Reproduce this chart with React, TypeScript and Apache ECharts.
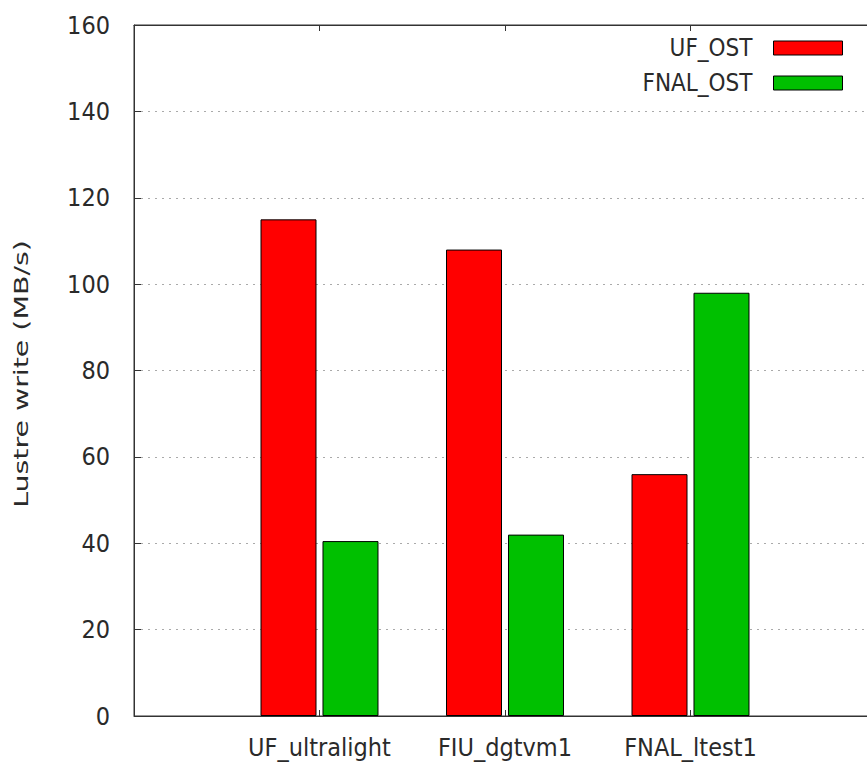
import React, { useEffect, useRef } from "react";
import * as echarts from "echarts";

// Lustre write throughput per client host, grouped by target OST
const categories = ["UF_ultralight", "FIU_dgtvm1", "FNAL_ltest1"];
const seriesNames = ["UF_OST", "FNAL_OST"];
const ufOst = [115, 108, 56];
const fnalOst = [40.5, 42, 98];
const yTicks = [0, 20, 40, 60, 80, 100, 120, 140, 160];

const NARROW = "'DejaVu Sans Condensed', 'DejaVu Sans', sans-serif";
const TEXT = "#2a2a2a";

export default function App() {
  const ref = useRef<HTMLDivElement>(null);

  useEffect(() => {
    if (!ref.current) return;
    const chart = echarts.init(ref.current, undefined, { renderer: "svg" });
    const xLabel = (v: number) => (Number.isInteger(v) && categories[v] !== undefined ? categories[v] : "");

    chart.setOption({
      animation: false,
      backgroundColor: "#fff",
      grid: { left: 134, top: 25, right: 4, bottom: 49, show: true, borderColor: "#333", borderWidth: 1 },
      legend: {
        orient: "vertical",
        right: 37,
        top: 33,
        padding: 0,
        align: "right",
        itemWidth: 69,
        itemHeight: 14,
        itemGap: 5,
        icon: "rect",
        selectedMode: false,
        data: seriesNames,
        textStyle: { fontFamily: NARROW, fontSize: 24, color: TEXT, lineHeight: 30, padding: [0, 16, 0, 0] },
        itemStyle: { borderColor: "#000", borderWidth: 1 },
      },
      xAxis: [
        {
          type: "value",
          min: -1,
          max: 3,
          interval: 1,
          position: "bottom",
          splitLine: { show: false },
          axisLine: { show: true, onZero: false, lineStyle: { color: "#333", width: 1 } },
          axisTick: { show: true, inside: true, length: 6, lineStyle: { color: "#333" } },
          axisLabel: { formatter: xLabel, fontFamily: NARROW, fontSize: 25, color: TEXT, margin: 19 },
        },
        {
          type: "value",
          min: -1,
          max: 3,
          interval: 1,
          position: "top",
          splitLine: { show: false },
          axisLine: { show: true, onZero: false, lineStyle: { color: "#333", width: 1 } },
          axisTick: { show: true, inside: true, length: 6, lineStyle: { color: "#333" } },
          axisLabel: { show: false },
        },
      ],
      yAxis: {
        type: "value",
        min: yTicks[0],
        max: yTicks[yTicks.length - 1],
        interval: 20,
        axisLine: { show: true, onZero: false, lineStyle: { color: "#333", width: 1 } },
        axisTick: { show: true, inside: true, length: 7, lineStyle: { color: "#333" } },
        axisLabel: { fontFamily: NARROW, fontSize: 25, color: TEXT, margin: 24 },
        splitLine: { show: true, lineStyle: { color: "#aaa", type: [2, 5], width: 1 } },
      },
      graphic: [
        {
          type: "text",
          x: 21,
          y: 374,
          rotation: Math.PI / 2,
          scaleX: 1.42,
          style: {
            text: "Lustre write (MB/s)",
            fontFamily: "'DejaVu Sans', sans-serif",
            fontSize: 20,
            fill: TEXT,
            textAlign: "center",
            textVerticalAlign: "middle",
          },
        },
      ],
      series: [
        {
          name: seriesNames[0],
          type: "bar",
          barWidth: 56,
          barGap: "10.7%",
          data: categories.map((_, i) => [i, ufOst[i]]),
          itemStyle: { color: "#ff0000", borderColor: "#000", borderWidth: 1 },
        },
        {
          name: seriesNames[1],
          type: "bar",
          barWidth: 56,
          barGap: "10.7%",
          data: categories.map((_, i) => [i, fnalOst[i]]),
          itemStyle: { color: "#00c000", borderColor: "#000", borderWidth: 1 },
        },
      ],
    });

    return () => chart.dispose();
  }, []);

  return (
    <div
      ref={ref}
      style={{ position: "fixed", left: 0, top: 0, width: 880, height: 765, background: "#fff" }}
    />
  );
}
